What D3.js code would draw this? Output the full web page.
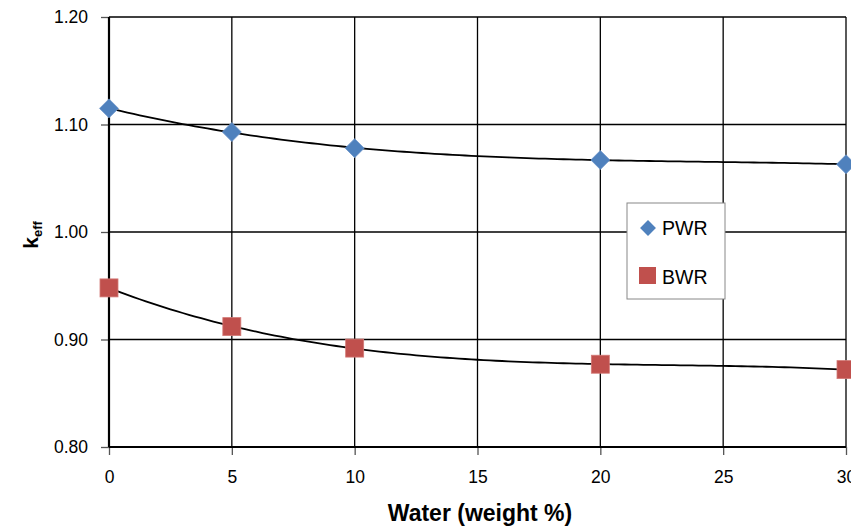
<!DOCTYPE html>
<html>
<head>
<meta charset="utf-8">
<script src="https://cdn.jsdelivr.net/npm/d3@7"></script>
<style>
  body { margin: 0; background: #fff; }
  svg text { font-family: "Liberation Sans", Arial, sans-serif; }
</style>
</head>
<body>
<div id="chart"></div>
<script>
// data
var water = [0, 5, 10, 20, 30];
var pwr = [1.115, 1.093, 1.078, 1.067, 1.063];
var bwr = [0.948, 0.912, 0.892, 0.877, 0.872];
var xTicks = [0, 5, 10, 15, 20, 25, 30];
var yTicks = [0.80, 0.90, 1.00, 1.10, 1.20];

var W = 851, H = 527;
var margin = {top: 17, right: 5, bottom: 80, left: 109};
var width = 846 - margin.left,
    height = 447 - margin.top;

var svg = d3.select("#chart").append("svg")
    .attr("width", W).attr("height", H);
var g = svg.append("g")
    .attr("transform", "translate(" + margin.left + "," + margin.top + ")");

var x = d3.scaleLinear().domain([0, 30]).range([0, width]);
var y = d3.scaleLinear().domain([0.8, 1.2]).range([height, 0]);

// gridlines
g.selectAll(".hgrid").data(yTicks).enter().append("line")
    .attr("x1", 0).attr("x2", width)
    .attr("y1", function(d) { return y(d); }).attr("y2", function(d) { return y(d); })
    .attr("stroke", "#000").attr("stroke-width", 1.3);
g.selectAll(".vgrid").data(xTicks).enter().append("line")
    .attr("y1", 0).attr("y2", height)
    .attr("x1", function(d) { return x(d); }).attr("x2", function(d) { return x(d); })
    .attr("stroke", "#000").attr("stroke-width", 1.3);

// axes
var yAxis = g.append("g")
    .call(d3.axisLeft(y).tickValues(yTicks).tickFormat(d3.format(".2f")).tickSize(8).tickPadding(13));
var xAxis = g.append("g")
    .attr("transform", "translate(0," + height + ")")
    .call(d3.axisBottom(x).tickValues(xTicks).tickSize(8).tickPadding(16));
[xAxis, yAxis].forEach(function(a) {
  a.select(".domain").remove();
  a.selectAll("line").attr("stroke", "#555").attr("stroke-width", 1.3);
  a.selectAll("text").attr("font-size", 17.5).attr("fill", "#000");
});
g.append("line").attr("x1", 0).attr("x2", 0).attr("y1", 0).attr("y2", height)
    .attr("stroke", "#000").attr("stroke-width", 2.2);
g.append("line").attr("x1", 0).attr("x2", width).attr("y1", height).attr("y2", height)
    .attr("stroke", "#000").attr("stroke-width", 2.2);

// cubic least squares trendline
function polyfit(xs, ys, n) {
  var m = n + 1, A = [], b = [];
  for (var i = 0; i < m; i++) {
    A.push([]);
    for (var j = 0; j < m; j++) A[i].push(d3.sum(xs, function(v) { return Math.pow(v, i + j); }));
    b.push(d3.sum(xs, function(v, k) { return ys[k] * Math.pow(v, i); }));
  }
  for (var c = 0; c < m; c++) {
    for (var r = c + 1; r < m; r++) {
      var f = A[r][c] / A[c][c];
      for (var k = c; k < m; k++) A[r][k] -= f * A[c][k];
      b[r] -= f * b[c];
    }
  }
  var coef = new Array(m);
  for (var r2 = m - 1; r2 >= 0; r2--) {
    var s = b[r2];
    for (var k2 = r2 + 1; k2 < m; k2++) s -= A[r2][k2] * coef[k2];
    coef[r2] = s / A[r2][r2];
  }
  return function(v) { return d3.sum(coef, function(cf, p) { return cf * Math.pow(v, p); }); };
}

var line = d3.line().x(function(d) { return x(d[0]); }).y(function(d) { return y(d[1]); });
[pwr, bwr].forEach(function(series) {
  var f = polyfit(water, series, 3);
  var pts = d3.range(0, 30.01, 0.25).map(function(v) { return [v, f(v)]; });
  g.append("path").datum(pts).attr("d", line)
      .attr("fill", "none").attr("stroke", "#000").attr("stroke-width", 1.8);
});

// markers
var diamond = d3.symbol().type(d3.symbolDiamond2).size(230);
g.selectAll(".pwr").data(water).enter().append("path")
    .attr("d", diamond)
    .attr("transform", function(d, i) { return "translate(" + x(d) + "," + y(pwr[i]) + ")"; })
    .attr("fill", "#4F81BD").attr("stroke", "#6f97cc").attr("stroke-width", 0.8);
g.selectAll(".bwr").data(water).enter().append("rect")
    .attr("x", function(d) { return x(d) - 9; })
    .attr("y", function(d, i) { return y(bwr[i]) - 9; })
    .attr("width", 18).attr("height", 18)
    .attr("fill", "#C0504D").attr("stroke", "#d37a77").attr("stroke-width", 0.8);

// legend
var lg = svg.append("g").attr("transform", "translate(627,203)");
lg.append("rect").attr("width", 98).attr("height", 96)
    .attr("fill", "#fff").attr("stroke", "#888").attr("stroke-width", 1);
lg.append("path").attr("d", d3.symbol().type(d3.symbolDiamond2).size(160))
    .attr("transform", "translate(21,25)").attr("fill", "#4F81BD");
lg.append("rect").attr("x", 12).attr("y", 64).attr("width", 17).attr("height", 17)
    .attr("fill", "#C0504D");
lg.append("text").attr("x", 35).attr("y", 32).attr("font-size", 19.5).text("PWR");
lg.append("text").attr("x", 35).attr("y", 81).attr("font-size", 19.5).text("BWR");

// axis titles
svg.append("text").attr("x", 480).attr("y", 521).attr("text-anchor", "middle")
    .attr("font-size", 23).attr("font-weight", "bold").text("Water (weight %)");
var yt = svg.append("text").attr("transform", "translate(38,235) rotate(-90)")
    .attr("text-anchor", "middle").attr("font-size", 21).attr("font-weight", "bold");
yt.append("tspan").text("k");
yt.append("tspan").attr("font-size", 13).attr("dy", 4).text("eff");
</script>
</body>
</html>
